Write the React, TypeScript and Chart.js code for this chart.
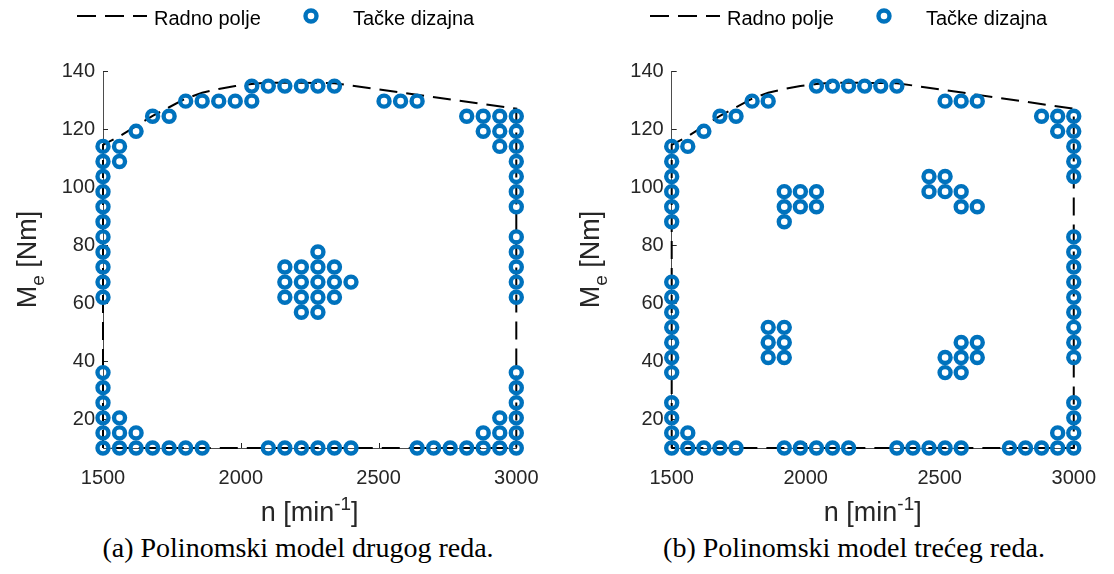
import React, { useEffect, useRef } from "react";
import { Chart, registerables } from "chart.js";

Chart.register(...registerables);

// ---------- data ----------
const X_TICKS = [1500, 2000, 2500, 3000];
const Y_TICKS = [20, 40, 60, 80, 100, 120, 140];
const X_MIN = 1500;
const X_MAX = 3000;
const Y_MIN = 10;
const Y_MAX = 140;

// "Radno polje" boundary (n, M)
const BOUNDARY_N = [1500, 1500, 1560, 1620, 1680, 1740, 1800, 1860, 1920, 1980, 2040, 2100, 2340, 3000, 3000, 1500];
const BOUNDARY_M = [10, 114.5, 117.5, 121, 124.5, 127.5, 130.5, 132.5, 133.8, 134.8, 135.5, 136, 135.8, 127, 10, 10];

// torque levels of the design grid
const M_LEVELS = [10, 15.2, 20.4, 25.6, 30.8, 36, 41.2, 46.4, 51.6, 56.8, 62, 67.2, 72.4, 77.6, 82.8, 88, 93.2, 98.4, 103.6, 108.8, 114, 119.2, 124.4, 129.6, 134.8];

// (a) second order model: speeds of the design points at each torque level
const LEFT_N_BY_LEVEL: number[][] = [
  [1500, 1560, 1620, 1680, 1740, 1800, 1860, 2100, 2160, 2220, 2280, 2340, 2400, 2640, 2700, 2760, 2820, 2880, 2940, 3000],
  [1500, 1560, 1620, 2880, 2940, 3000],
  [1500, 1560, 2940, 3000],
  [1500, 3000],
  [1500, 3000],
  [1500, 3000],
  [],
  [],
  [],
  [2220, 2280],
  [1500, 2160, 2220, 2280, 2340, 3000],
  [1500, 2160, 2220, 2280, 2340, 2400, 3000],
  [1500, 2160, 2220, 2280, 2340, 3000],
  [1500, 2280, 3000],
  [1500, 3000],
  [1500],
  [1500, 3000],
  [1500, 3000],
  [1500, 3000],
  [1500, 1560, 3000],
  [1500, 1560, 2940, 3000],
  [1620, 2880, 2940, 3000],
  [1680, 1740, 2820, 2880, 2940, 3000],
  [1800, 1860, 1920, 1980, 2040, 2520, 2580, 2640],
  [2040, 2100, 2160, 2220, 2280, 2340],
];

// (b) third order model
const RIGHT_N_BY_LEVEL: number[][] = [
  [1500, 1560, 1620, 1680, 1740, 1920, 1980, 2040, 2100, 2160, 2340, 2400, 2460, 2520, 2580, 2760, 2820, 2880, 2940, 3000],
  [1500, 1560, 2940, 3000],
  [1500, 3000],
  [1500, 3000],
  [],
  [1500, 2520, 2580],
  [1500, 1860, 1920, 2520, 2580, 2640, 3000],
  [1500, 1860, 1920, 2580, 2640, 3000],
  [1500, 1860, 1920, 3000],
  [1500, 3000],
  [1500, 3000],
  [1500, 3000],
  [3000],
  [3000],
  [3000],
  [1500, 1920],
  [1500, 1920, 1980, 2040, 2580, 2640],
  [1500, 1920, 1980, 2040, 2460, 2520, 2580],
  [1500, 2460, 2520, 3000],
  [1500, 3000],
  [1500, 1560, 3000],
  [1620, 2940, 3000],
  [1680, 1740, 2880, 2940, 3000],
  [1800, 1860, 2520, 2580, 2640],
  [2040, 2100, 2160, 2220, 2280, 2340],
];

const LEGEND_LINE = "Radno polje";
const LEGEND_POINTS = "Tačke dizajna";

// ---------- styling ----------
const BLUE = "#0072BD";
const AXIS_COLOR = "#262626";
const SANS = '"Liberation Sans", Arial, Helvetica, sans-serif';
const SERIF = '"Liberation Serif", "Times New Roman", serif';
const CANVAS_W = 557;
const CANVAS_H = 532;
const PLOT_TOP = 71;
const X_AXIS_H = 62;
const PAD_BOTTOM = CANVAS_H - X_AXIS_H - 448;
const PT_R = 5.5;
const PT_W = 4.4;

type PanelCfg = {
  key: string;
  left: number;
  yAxisWidth: number;
  padRight: number;
  legendX: number;
  yTitleX: number;
  rows: number[][];
  caption: string;
  captionCenter: number;
};

const PANELS: PanelCfg[] = [
  { key: "a", left: 0, yAxisWidth: 103, padRight: 40.7, legendX: 77, yTitleX: 36, rows: LEFT_N_BY_LEVEL, caption: "(a) Polinomski model drugog reda.", captionCenter: 298 },
  { key: "b", left: 557, yAxisWidth: 114.7, padRight: 29, legendX: 93, yTitleX: 42, rows: RIGHT_N_BY_LEVEL, caption: "(b) Polinomski model trećeg reda.", captionCenter: 854 },
];

type Part = { t: string; sc?: number; dy?: number };

function drawRich(ctx: CanvasRenderingContext2D, parts: Part[], cx: number, baseY: number, size: number) {
  let total = 0;
  const widths = parts.map((p) => {
    ctx.font = `${size * (p.sc ?? 1)}px ${SANS}`;
    const w = ctx.measureText(p.t).width;
    total += w;
    return w;
  });
  let x = cx - total / 2;
  parts.forEach((p, i) => {
    ctx.font = `${size * (p.sc ?? 1)}px ${SANS}`;
    ctx.fillText(p.t, x, baseY + (p.dy ?? 0) * size);
    x += widths[i];
  });
}

function makeDecor(cfg: PanelCfg) {
  return {
    id: "decor_" + cfg.key,
    beforeDatasetsDraw(chart: any) {
      const ctx: CanvasRenderingContext2D = chart.ctx;
      const xs = chart.scales.x;
      const ys = chart.scales.y;
      const { left, bottom } = chart.chartArea;
      ctx.save();
      ctx.strokeStyle = AXIS_COLOR;
      ctx.lineWidth = 1;
      Y_TICKS.forEach((v) => {
        const y = Math.round(ys.getPixelForValue(v)) + 0.5;
        ctx.beginPath();
        ctx.moveTo(left, y);
        ctx.lineTo(left + 5, y);
        ctx.stroke();
      });
      X_TICKS.forEach((v) => {
        const x = Math.round(xs.getPixelForValue(v)) + 0.5;
        ctx.beginPath();
        ctx.moveTo(x, bottom);
        ctx.lineTo(x, bottom - 5);
        ctx.stroke();
      });
      ctx.restore();
    },
    afterDraw(chart: any) {
      const ctx: CanvasRenderingContext2D = chart.ctx;
      const { left, right, top, bottom } = chart.chartArea;
      ctx.save();
      // legend
      const lx = cfg.legendX;
      const ly = 16;
      ctx.strokeStyle = "#000";
      ctx.lineWidth = 2;
      ctx.setLineDash([19, 9]);
      ctx.beginPath();
      ctx.moveTo(lx, ly);
      ctx.lineTo(lx + 70, ly);
      ctx.stroke();
      ctx.setLineDash([]);
      ctx.fillStyle = "#000";
      ctx.textBaseline = "alphabetic";
      ctx.textAlign = "left";
      ctx.font = `20px ${SANS}`;
      ctx.fillText(LEGEND_LINE, lx + 77, 25);
      ctx.strokeStyle = BLUE;
      ctx.lineWidth = PT_W;
      ctx.beginPath();
      ctx.arc(lx + 234, ly, PT_R, 0, Math.PI * 2);
      ctx.stroke();
      ctx.fillText(LEGEND_POINTS, lx + 276, 25);

      // axis titles
      ctx.fillStyle = AXIS_COLOR;
      drawRich(
        ctx,
        [{ t: "n [min" }, { t: "-1", sc: 0.7, dy: -0.42 }, { t: "]" }],
        (left + right) / 2,
        521,
        27
      );
      ctx.translate(cfg.yTitleX, (top + bottom) / 2);
      ctx.rotate(-Math.PI / 2);
      drawRich(ctx, [{ t: "M" }, { t: "e", sc: 0.7, dy: 0.3 }, { t: " [Nm]" }], 0, 0, 27);
      ctx.restore();
    },
  };
}

function buildConfig(cfg: PanelCfg): any {
  const boundary = BOUNDARY_N.map((n, i) => ({ x: n, y: BOUNDARY_M[i] }));
  const pts: { x: number; y: number }[] = [];
  cfg.rows.forEach((row, k) => row.forEach((n) => pts.push({ x: n, y: M_LEVELS[k] })));
  const tickFont = { family: SANS, size: 20 };
  return {
    type: "scatter",
    data: {
      datasets: [
        {
          type: "line",
          label: LEGEND_LINE,
          data: boundary,
          borderColor: "#000",
          borderWidth: 2,
          borderDash: [18, 9],
          pointRadius: 0,
          fill: false,
          tension: 0,
          order: 1,
          clip: false,
        },
        {
          type: "scatter",
          label: LEGEND_POINTS,
          data: pts,
          pointStyle: "circle",
          pointRadius: PT_R,
          pointHoverRadius: PT_R,
          borderWidth: PT_W,
          borderColor: BLUE,
          backgroundColor: "rgba(0,0,0,0)",
          order: 0,
          clip: false,
        },
      ],
    },
    options: {
      responsive: false,
      animation: false,
      devicePixelRatio: 1,
      events: [],
      layout: { padding: { left: 0, right: cfg.padRight, top: PLOT_TOP, bottom: PAD_BOTTOM } },
      plugins: { legend: { display: false }, tooltip: { enabled: false }, title: { display: false } },
      scales: {
        x: {
          type: "linear",
          min: X_MIN,
          max: X_MAX,
          afterBuildTicks: (s: any) => {
            s.ticks = X_TICKS.map((v) => ({ value: v }));
          },
          afterFit: (s: any) => {
            s.height = X_AXIS_H;
          },
          grid: { display: false, drawTicks: false },
          border: { display: true, color: "#4d4d4d", width: 1 },
          ticks: { font: tickFont, color: AXIS_COLOR, padding: 18, maxRotation: 0, autoSkip: false, callback: (v: any) => String(v) },
        },
        y: {
          type: "linear",
          min: Y_MIN,
          max: Y_MAX,
          afterBuildTicks: (s: any) => {
            s.ticks = Y_TICKS.map((v) => ({ value: v }));
          },
          afterFit: (s: any) => {
            s.width = cfg.yAxisWidth;
          },
          grid: { display: false, drawTicks: false },
          border: { display: true, color: "#4d4d4d", width: 1 },
          ticks: { font: tickFont, color: AXIS_COLOR, padding: 8, autoSkip: false, callback: (v: any) => String(v) },
        },
      },
    },
    plugins: [makeDecor(cfg)],
  };
}

function Panel({ cfg }: { cfg: PanelCfg }) {
  const ref = useRef<HTMLCanvasElement>(null);
  useEffect(() => {
    if (!ref.current) return;
    const chart = new Chart(ref.current, buildConfig(cfg));
    return () => chart.destroy();
  }, [cfg]);
  return (
    <canvas
      ref={ref}
      width={CANVAS_W}
      height={CANVAS_H}
      style={{ position: "absolute", left: cfg.left, top: 0, width: CANVAS_W, height: CANVAS_H }}
    />
  );
}

export default function App() {
  return (
    <div style={{ position: "absolute", left: 0, top: 0, width: 1114, height: 574, overflow: "hidden", background: "#fff" }}>
      {PANELS.map((p) => (
        <Panel key={p.key} cfg={p} />
      ))}
      {PANELS.map((p) => (
        <div
          key={p.key + "-cap"}
          style={{
            position: "absolute",
            left: p.captionCenter - 300,
            width: 600,
            top: 533,
            textAlign: "center",
            fontFamily: SERIF,
            fontSize: 28,
            lineHeight: "30px",
            color: "#000",
            whiteSpace: "nowrap",
          }}
        >
          {p.caption}
        </div>
      ))}
    </div>
  );
}
